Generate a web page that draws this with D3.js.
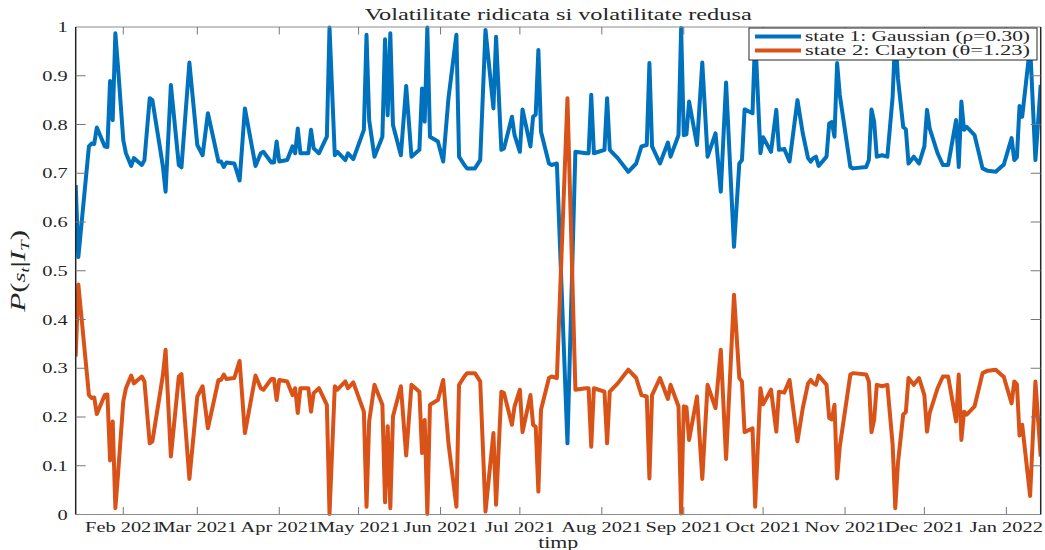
<!DOCTYPE html>
<html>
<head>
<meta charset="utf-8">
<script src="https://cdn.jsdelivr.net/npm/d3@7"></script>
<style>
html,body{margin:0;padding:0;background:#fff;}
svg{display:block;}
text{font-family:"Liberation Serif","Times New Roman",serif;fill:#262626;}
</style>
</head>
<body>
<svg id="chart" width="1045" height="550"></svg>
<script>
// ---------- data ----------
const dates = ["2021-01-14","2021-01-15","2021-01-19","2021-01-20","2021-01-21","2021-01-22","2021-01-25","2021-01-26","2021-01-27","2021-01-28","2021-01-29","2021-01-30",
"2021-02-01","2021-02-02","2021-02-04","2021-02-05","2021-02-08","2021-02-09","2021-02-11","2021-02-12","2021-02-15","2021-02-16","2021-02-17","2021-02-19","2021-02-22","2021-02-23","2021-02-26",
"2021-03-01","2021-03-03","2021-03-05","2021-03-09","2021-03-10","2021-03-11","2021-03-12","2021-03-15","2021-03-17","2021-03-19","2021-03-23","2021-03-25","2021-03-26","2021-03-29","2021-03-30","2021-03-31",
"2021-04-01","2021-04-04","2021-04-06","2021-04-07","2021-04-08","2021-04-09","2021-04-12","2021-04-13","2021-04-14","2021-04-16","2021-04-19","2021-04-20","2021-04-22","2021-04-23","2021-04-26","2021-04-27","2021-04-29",
"2021-05-03","2021-05-04","2021-05-05","2021-05-07","2021-05-10","2021-05-11","2021-05-12","2021-05-13","2021-05-14","2021-05-17","2021-05-19","2021-05-21","2021-05-24","2021-05-25","2021-05-26","2021-05-27","2021-05-28","2021-05-31",
"2021-06-02","2021-06-04","2021-06-07","2021-06-08","2021-06-10","2021-06-11","2021-06-14","2021-06-16","2021-06-18","2021-06-21","2021-06-22","2021-06-24","2021-06-25","2021-06-28","2021-06-29",
"2021-07-01","2021-07-02","2021-07-05","2021-07-06","2021-07-07","2021-07-08","2021-07-09","2021-07-12","2021-07-13","2021-07-15","2021-07-19","2021-07-22","2021-07-26","2021-07-27","2021-07-28","2021-07-29",
"2021-08-02","2021-08-03","2021-08-04","2021-08-07","2021-08-11","2021-08-14","2021-08-16","2021-08-18","2021-08-19","2021-08-20","2021-08-23","2021-08-26","2021-08-27","2021-08-30","2021-08-31",
"2021-09-01","2021-09-02","2021-09-03","2021-09-06","2021-09-08","2021-09-10","2021-09-13","2021-09-15","2021-09-17","2021-09-20","2021-09-22","2021-09-23","2021-09-24","2021-09-27","2021-09-28","2021-09-30",
"2021-10-01","2021-10-04","2021-10-06","2021-10-07","2021-10-09","2021-10-11","2021-10-14","2021-10-16","2021-10-18","2021-10-19","2021-10-20","2021-10-21","2021-10-22","2021-10-25","2021-10-26","2021-10-27","2021-10-28","2021-10-29","2021-10-30",
"2021-11-03","2021-11-04","2021-11-09","2021-11-10","2021-11-11","2021-11-12","2021-11-13","2021-11-15","2021-11-17","2021-11-19","2021-11-20","2021-11-21","2021-11-23","2021-11-24","2021-11-25","2021-11-27","2021-11-29",
"2021-12-01","2021-12-02","2021-12-03","2021-12-06","2021-12-08","2021-12-10","2021-12-13","2021-12-14","2021-12-15","2021-12-16","2021-12-17","2021-12-20","2021-12-23","2021-12-25","2021-12-28","2021-12-30","2021-12-31",
"2022-01-03","2022-01-04","2022-01-05","2022-01-06","2022-01-07","2022-01-10","2022-01-12","2022-01-14"];

const state1 = [0.676,0.528,0.755,0.761,0.760,0.794,0.755,0.754,0.889,0.809,0.987,0.918,
0.768,0.741,0.715,0.731,0.717,0.727,0.854,0.850,0.748,0.713,0.662,0.881,0.717,0.712,0.927,
0.758,0.737,0.823,0.724,0.724,0.713,0.722,0.720,0.685,0.833,0.715,0.741,0.744,0.722,0.722,0.765,
0.724,0.727,0.755,0.741,0.792,0.741,0.741,0.789,0.751,0.741,0.775,0.999,0.737,0.744,0.727,0.741,0.729,
0.789,0.984,0.809,0.734,0.775,0.975,0.819,0.987,0.799,0.737,0.879,0.734,0.748,0.874,0.806,0.999,0.775,0.765,
0.724,0.854,0.984,0.734,0.717,0.710,0.710,0.727,0.994,0.833,0.980,0.748,0.751,0.816,0.778,
0.744,0.831,0.755,0.816,0.820,0.953,0.785,0.720,0.717,0.720,0.146,0.744,0.741,0.741,0.861,0.741,
0.748,0.854,0.748,0.731,0.703,0.720,0.755,0.758,0.926,0.755,0.720,0.763,0.734,0.778,0.998,
0.778,0.780,0.847,0.758,0.927,0.734,0.782,0.662,0.886,0.549,0.720,0.727,0.831,0.823,0.984,0.741,
0.774,0.744,0.830,0.748,0.750,0.724,0.850,0.782,0.731,0.724,0.731,0.734,0.715,0.734,0.802,0.805,0.775,0.926,0.861,
0.713,0.710,0.713,0.727,0.831,0.806,0.734,0.737,0.734,0.857,0.987,0.895,0.795,0.790,0.720,0.734,0.720,
0.755,0.830,0.792,0.741,0.717,0.717,0.809,0.713,0.847,0.789,0.795,0.778,0.710,0.705,0.703,0.713,0.717,
0.772,0.727,0.733,0.838,0.816,0.962,0.727,0.881];

const state2 = [0.324,0.472,0.245,0.239,0.240,0.206,0.245,0.246,0.111,0.191,0.013,0.082,
0.232,0.259,0.285,0.269,0.283,0.273,0.146,0.150,0.252,0.287,0.338,0.119,0.283,0.288,0.073,
0.242,0.263,0.177,0.276,0.276,0.287,0.278,0.280,0.315,0.167,0.285,0.259,0.256,0.278,0.278,0.235,
0.276,0.273,0.245,0.259,0.208,0.259,0.259,0.211,0.249,0.259,0.225,0.001,0.263,0.256,0.273,0.259,0.271,
0.211,0.016,0.191,0.266,0.225,0.025,0.181,0.013,0.201,0.263,0.121,0.266,0.252,0.126,0.194,0.001,0.225,0.235,
0.276,0.146,0.016,0.266,0.283,0.290,0.290,0.273,0.006,0.167,0.020,0.252,0.249,0.184,0.222,
0.256,0.169,0.245,0.184,0.180,0.047,0.215,0.280,0.283,0.280,0.854,0.256,0.259,0.259,0.139,0.259,
0.252,0.146,0.252,0.269,0.297,0.280,0.245,0.242,0.074,0.245,0.280,0.237,0.266,0.222,0.002,
0.222,0.220,0.153,0.242,0.073,0.266,0.218,0.338,0.114,0.451,0.280,0.273,0.169,0.177,0.016,0.259,
0.226,0.256,0.170,0.252,0.250,0.276,0.150,0.218,0.269,0.276,0.269,0.266,0.285,0.266,0.198,0.195,0.225,0.074,0.139,
0.287,0.290,0.287,0.273,0.169,0.194,0.266,0.263,0.266,0.143,0.013,0.105,0.205,0.210,0.280,0.266,0.280,
0.245,0.170,0.208,0.259,0.283,0.283,0.191,0.287,0.153,0.211,0.205,0.222,0.290,0.295,0.297,0.287,0.283,
0.228,0.273,0.267,0.162,0.184,0.038,0.273,0.119];

const yTicks = [0,0.1,0.2,0.3,0.4,0.5,0.6,0.7,0.8,0.9,1];
const yTickLabels = ["0","0.1","0.2","0.3","0.4","0.5","0.6","0.7","0.8","0.9","1"];
const xTicks = ["2021-02-01","2021-03-01","2021-04-01","2021-05-01","2021-06-01","2021-07-01","2021-08-01","2021-09-01","2021-10-01","2021-11-01","2021-12-01","2022-01-01"];
const xTickLabels = ["Feb 2021","Mar 2021","Apr 2021","May 2021","Jun 2021","Jul 2021","Aug 2021","Sep 2021","Oct 2021","Nov 2021","Dec 2021","Jan 2022"];
const seriesNames = ["state 1:  Gaussian (\u03C1=0.30)","state 2:  Clayton (\u03B8=1.23)"];
const seriesColors = ["#0072BD","#D95319"];
const titleText = "Volatilitate ridicata si volatilitate redusa";
const xLabelText = "timp";

// ---------- layout ----------
const parse = d3.timeParse("%Y-%m-%d");
const L = 75.7, R = 1040.7, T = 27, B = 514.5;
const SX = 1.36; // horizontal glyph stretch of the reference

const x = d3.scaleTime().domain([parse("2021-01-14"), parse("2022-01-14")]).range([L, R]);
const y = d3.scaleLinear().domain([0, 1]).range([B, T]);

const svg = d3.select("#chart");
svg.append("rect").attr("width",1045).attr("height",550).attr("fill","#fff");

svg.append("defs").append("clipPath").attr("id","clip")
  .append("rect").attr("x",L).attr("y",T-3).attr("width",R-L).attr("height",B-T+6);

// series
const series = [state1, state2];
const line = d3.line().x(d => x(d.date)).y(d => y(d.v));
series.forEach((vals, i) => {
  const data = dates.map((s, j) => ({date: parse(s), v: vals[j]}));
  svg.append("path").datum(data)
    .attr("clip-path","url(#clip)")
    .attr("fill","none")
    .attr("stroke", seriesColors[i])
    .attr("stroke-width", 4)
    .attr("stroke-linejoin","round")
    .attr("stroke-linecap","butt")
    .attr("d", line);
});

// axes box
svg.append("line").attr("x1",L).attr("x2",R).attr("y1",B).attr("y2",B).attr("stroke","#8c8c8c").attr("stroke-width",1.2);
svg.append("line").attr("x1",L).attr("x2",R).attr("y1",T).attr("y2",T).attr("stroke","#8c8c8c").attr("stroke-width",1.2);
svg.append("line").attr("x1",L).attr("x2",L).attr("y1",T).attr("y2",B).attr("stroke","#262626").attr("stroke-width",1.5);
svg.append("line").attr("x1",R).attr("x2",R).attr("y1",T).attr("y2",B).attr("stroke","#262626").attr("stroke-width",1.5);

// y ticks
yTicks.forEach((t, i) => {
  const yy = y(t);
  if (t > 0 && t < 1) {
    svg.append("line").attr("x1",L).attr("x2",L+10).attr("y1",yy).attr("y2",yy).attr("stroke","#777").attr("stroke-width",1);
    svg.append("line").attr("x1",R-10).attr("x2",R).attr("y1",yy).attr("y2",yy).attr("stroke","#777").attr("stroke-width",1);
  }
  svg.append("text")
    .attr("transform",`translate(${L-8},${yy+5}) scale(${SX},1)`)
    .attr("text-anchor","end").attr("font-size",15)
    .text(yTickLabels[i]);
});

// x ticks
xTicks.forEach((s, i) => {
  const xx = x(parse(s));
  svg.append("line").attr("x1",xx).attr("x2",xx).attr("y1",B).attr("y2",B-7.5).attr("stroke","#777").attr("stroke-width",1);
  svg.append("line").attr("x1",xx).attr("x2",xx).attr("y1",T).attr("y2",T+7.5).attr("stroke","#777").attr("stroke-width",1);
  svg.append("text")
    .attr("transform",`translate(${xx},531.5) scale(${SX},1)`)
    .attr("text-anchor","middle").attr("font-size",15)
    .text(xTickLabels[i]);
});

// title
svg.append("text").attr("x",(L+R)/2).attr("y",19.5).attr("text-anchor","middle")
  .attr("font-size",16).attr("textLength",387).attr("lengthAdjust","spacingAndGlyphs")
  .text(titleText);

// x label
svg.append("text").attr("x",(L+R)/2).attr("y",547.5).attr("text-anchor","middle")
  .attr("font-size",16).attr("textLength",40).attr("lengthAdjust","spacingAndGlyphs")
  .text(xLabelText);

// y label
const yl = svg.append("text")
  .attr("transform",`translate(25,${(T+B)/2}) rotate(-90)`)
  .attr("text-anchor","middle").attr("font-size",21)
  .attr("textLength",82).attr("lengthAdjust","spacingAndGlyphs");
yl.append("tspan").attr("font-style","italic").text("P");
yl.append("tspan").text("(");
yl.append("tspan").attr("font-style","italic").attr("font-size",17).text("s");
yl.append("tspan").attr("font-style","italic").attr("font-size",12).attr("dy",4).text("t");
yl.append("tspan").attr("dy",-4).text("|");
yl.append("tspan").attr("font-style","italic").text("I");
yl.append("tspan").attr("font-style","italic").attr("font-size",13).attr("dy",4).text("T");
yl.append("tspan").attr("dy",-4).text(")");

// legend
const lg = svg.append("g");
lg.append("rect").attr("x",749).attr("y",28).attr("width",288).attr("height",32)
  .attr("fill","#fff").attr("stroke","#262626").attr("stroke-width",1);
seriesNames.forEach((n, i) => {
  const yy = 36.5 + i*14;
  lg.append("line").attr("x1",755).attr("x2",801).attr("y1",yy).attr("y2",yy)
    .attr("stroke",seriesColors[i]).attr("stroke-width",4);
  lg.append("text").attr("x",805).attr("y",yy+4.5).attr("font-size",14.5)
    .attr("textLength",225).attr("lengthAdjust","spacingAndGlyphs").text(n);
});
</script>
</body>
</html>
